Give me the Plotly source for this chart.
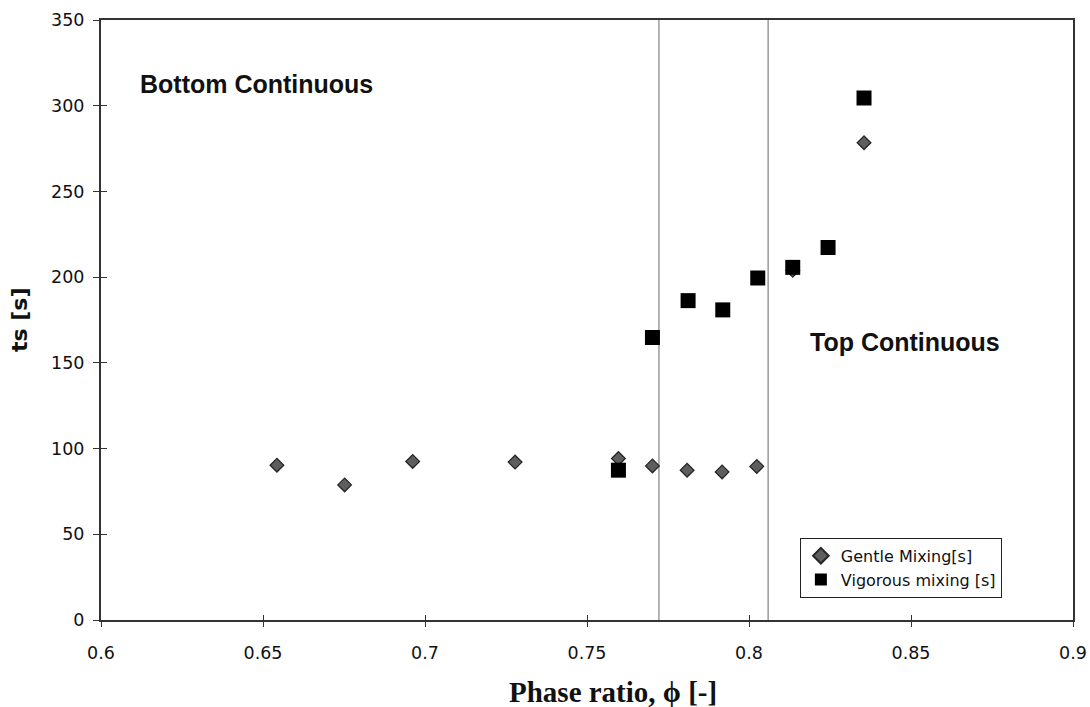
import plotly.graph_objects as go

# Data
gentle_x = [0.6543, 0.6752, 0.6962, 0.7278, 0.7597, 0.7702, 0.7809, 0.7917, 0.8024, 0.8135, 0.8355]
gentle_y = [90.3, 78.8, 92.5, 92.1, 94.2, 89.9, 87.4, 86.4, 89.6, 204.0, 278.4]
vig_x = [0.7597, 0.7702, 0.7812, 0.7919, 0.8027, 0.8135, 0.8244, 0.8355]
vig_y = [87.4, 164.8, 186.3, 180.9, 199.5, 205.7, 217.3, 304.5]
boundaries = [0.7722, 0.8059]
x_ticks = [0.6, 0.65, 0.7, 0.75, 0.8, 0.85, 0.9]
x_tick_text = ["0.6", "0.65", "0.7", "0.75", "0.8", "0.85", "0.9"]
y_ticks = [0, 50, 100, 150, 200, 250, 300, 350]

fig = go.Figure()
fig.add_trace(go.Scatter(
    x=gentle_x, y=gentle_y, mode="markers", name="Gentle Mixing[s]",
    marker=dict(symbol="diamond", size=10.5, color="#5e5e5e",
                line=dict(color="#262626", width=1.3)),
))
fig.add_trace(go.Scatter(
    x=vig_x, y=vig_y, mode="markers", name="Vigorous mixing [s]",
    marker=dict(symbol="square", size=15, color="#000000",
                line=dict(color="#000000", width=0)),
))

for b in boundaries:
    fig.add_shape(type="line", xref="x", yref="paper", x0=b, x1=b, y0=0, y1=1,
                  line=dict(color="#808080", width=1.2), layer="below")

axis_font = dict(family="DejaVu Sans", size=17.5, color="#111")
fig.update_layout(
    width=1090, height=707,
    margin=dict(l=101, r=17, t=20, b=87, autoexpand=False),
    paper_bgcolor="white", plot_bgcolor="white",
    showlegend=True,
    legend=dict(x=0.719, y=0.037, xanchor="left", yanchor="bottom",
                bordercolor="#222", borderwidth=1, bgcolor="white",
                font=dict(family="DejaVu Sans", size=16, color="#111"),
                itemsizing="constant", itemwidth=30, tracegroupgap=0),
    xaxis=dict(range=[0.6, 0.9], tickvals=x_ticks, ticktext=x_tick_text,
               showgrid=False, zeroline=False, showline=True, linecolor="#333",
               linewidth=2, mirror=True, ticks="outside", ticklen=5,
               tickcolor="#333", tickfont=axis_font, automargin=False,
               ticklabelstandoff=11, ticklabeloverflow="allow"),
    yaxis=dict(range=[0, 350], tickvals=y_ticks,
               showgrid=False, zeroline=False, showline=True, linecolor="#333",
               linewidth=2, mirror=True, ticks="outside", ticklen=6,
               tickcolor="#333", tickfont=axis_font, automargin=False,
               ticklabelstandoff=5),
    xaxis2=dict(range=[0.6, 0.9], tickvals=x_ticks, overlaying="x", side="bottom",
                showticklabels=False, showgrid=False, zeroline=False, showline=False,
                ticks="inside", ticklen=5, tickcolor="#333", anchor="y"),
    yaxis2=dict(range=[0, 350], tickvals=y_ticks, overlaying="y", side="left",
                showticklabels=False, showgrid=False, zeroline=False, showline=False,
                ticks="inside", ticklen=6, tickcolor="#333", anchor="x"),
)
# invisible trace to activate overlay axes (inner half of crossing ticks)
fig.add_trace(go.Scatter(x=[0.6], y=[0], xaxis="x2", yaxis="y2", mode="markers",
                         marker=dict(opacity=0), showlegend=False, hoverinfo="skip"))

# axis titles
fig.add_annotation(text="<b>Phase ratio, ϕ [-]</b>", x=0.527, y=-0.12, xref="paper", yref="paper",
                   xanchor="center", yanchor="middle", showarrow=False,
                   font=dict(family="Liberation Serif, Times New Roman", size=29, color="#111"))
fig.add_annotation(text="<b>ts [s]</b>", x=-0.0844, y=0.5, xref="paper", yref="paper",
                   xanchor="center", yanchor="middle", showarrow=False, textangle=-90,
                   font=dict(family="DejaVu Sans", size=22, color="#111"))

fig.add_annotation(text="<b>Bottom Continuous</b>", x=0.038, y=0.893, xref="paper", yref="paper",
                   xanchor="left", yanchor="middle", showarrow=False,
                   font=dict(family="Liberation Sans, Arial", size=25, color="#111"))
fig.add_annotation(text="<b>Top Continuous</b>", x=0.7274, y=0.463, xref="paper", yref="paper",
                   xanchor="left", yanchor="middle", showarrow=False,
                   font=dict(family="Liberation Sans, Arial", size=25, color="#111"))

fig.write_html("out.html",
               config={"displayModeBar": False},
               post_script="document.body.style.margin='0';document.body.style.overflow='hidden';")
